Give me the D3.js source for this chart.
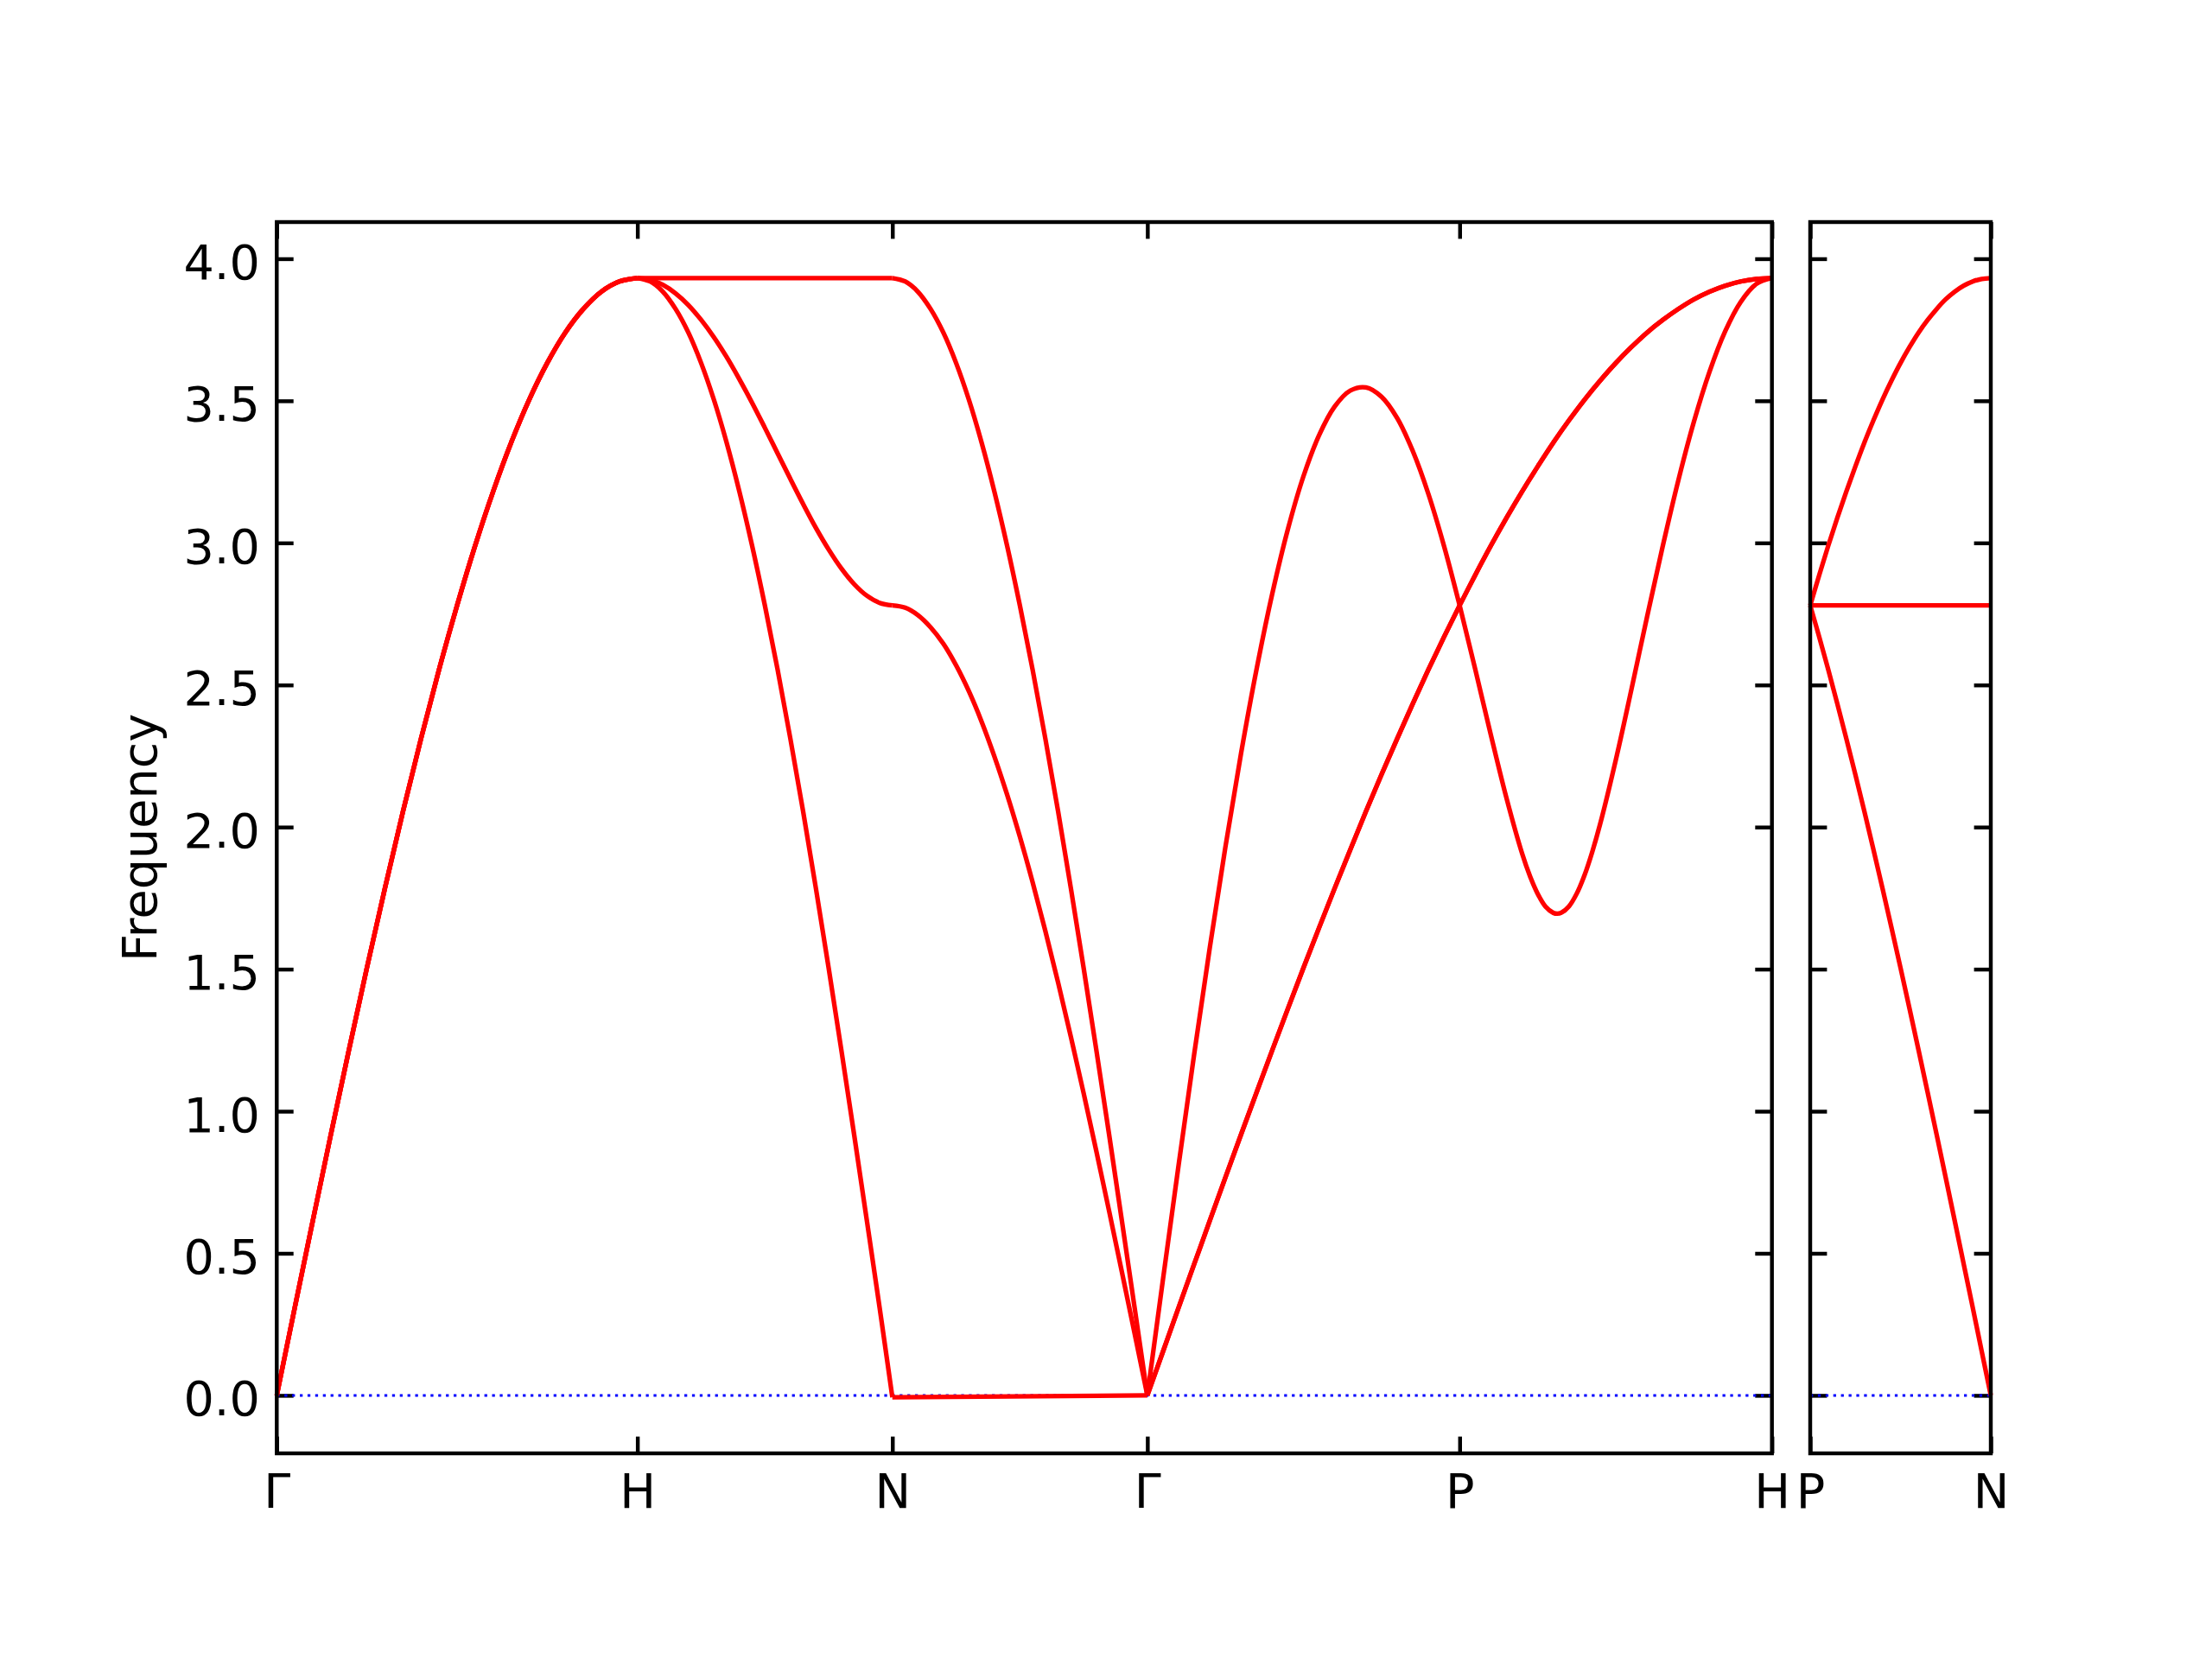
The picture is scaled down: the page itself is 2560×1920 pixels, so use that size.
<!DOCTYPE html>
<html><head><meta charset="utf-8">
<script src="https://cdn.jsdelivr.net/npm/d3@7"></script>
<style>body{margin:0;background:#fff}</style>
</head><body>
<svg id="c" width="2560" height="1920" xmlns="http://www.w3.org/2000/svg"></svg>
<script>
// ---------- data ----------
const kLabels1 = ["Γ", "H", "N", "Γ", "P", "H"];
const kLabels2 = ["P", "N"];
const segLen1 = [1.0, 0.7071, 0.7071, 0.8660, 0.8660];
const segLen2 = [0.5];
const yTicks = [0.0, 0.5, 1.0, 1.5, 2.0, 2.5, 3.0, 3.5, 4.0];
const qFrac = [0, 0.05, 0.1, 0.15, 0.2, 0.25, 0.3, 0.35, 0.4, 0.45, 0.5, 0.55, 0.6, 0.65, 0.7, 0.75, 0.8, 0.85, 0.9, 0.95, 1];
const qEnds = [0, 1];
const qPH_L = [0, 0.05, 0.1, 0.15, 0.2, 0.225, 0.25, 0.275, 0.3, 0.3125, 0.325, 0.35, 0.375, 0.4, 0.425, 0.45, 0.5, 0.55, 0.6, 0.65, 0.7, 0.75, 0.8, 0.85, 0.9, 0.95, 1];

const fGH = [0, 0.309, 0.615, 0.918, 1.215, 1.505, 1.785, 2.055, 2.311, 2.554, 2.780, 2.990, 3.181, 3.353, 3.504, 3.633, 3.740, 3.823, 3.884, 3.920, 3.932];
const fHN_top = [3.932, 3.932];
const fHN_mid = [3.932, 3.926, 3.908, 3.878, 3.837, 3.785, 3.724, 3.654, 3.576, 3.493, 3.405, 3.315, 3.225, 3.137, 3.053, 2.977, 2.910, 2.855, 2.814, 2.789, 2.780];
const fHN_low = [3.932, 3.920, 3.884, 3.823, 3.740, 3.633, 3.504, 3.353, 3.181, 2.990, 2.780, 2.554, 2.311, 2.055, 1.785, 1.505, 1.215, 0.918, 0.615, 0.309, -0.007];
const fNG_top = [3.932, 3.920, 3.884, 3.823, 3.740, 3.633, 3.504, 3.353, 3.181, 2.990, 2.780, 2.554, 2.311, 2.055, 1.785, 1.505, 1.215, 0.918, 0.615, 0.309, 0];
const fNG_mid = [2.780, 2.772, 2.746, 2.703, 2.645, 2.569, 2.478, 2.371, 2.249, 2.114, 1.966, 1.806, 1.634, 1.453, 1.262, 1.064, 0.859, 0.649, 0.435, 0.218, 0];
const fNG_low = [-0.007, 0];
const fGP_L = [0, 0.408, 0.810, 1.201, 1.576, 1.930, 2.259, 2.557, 2.821, 3.048, 3.235, 3.379, 3.480, 3.536, 3.547, 3.514, 3.439, 3.323, 3.172, 2.989, 2.780];
const fGP_T = [0, 0.154, 0.309, 0.462, 0.615, 0.767, 0.918, 1.067, 1.215, 1.361, 1.505, 1.646, 1.785, 1.921, 2.055, 2.185, 2.311, 2.434, 2.554, 2.669, 2.780];
const fPH_L = [2.780, 2.555, 2.324, 2.102, 1.907, 1.828, 1.765, 1.720, 1.698, 1.695, 1.698, 1.721, 1.766, 1.831, 1.914, 2.011, 2.236, 2.484, 2.739, 2.987, 3.219, 3.426, 3.602, 3.744, 3.848, 3.911, 3.932];
const fPH_T = [2.780, 2.887, 2.990, 3.088, 3.181, 3.269, 3.353, 3.431, 3.504, 3.571, 3.633, 3.689, 3.740, 3.784, 3.823, 3.857, 3.884, 3.905, 3.920, 3.929, 3.932];
const fPN_up = [2.780, 2.887, 2.990, 3.088, 3.181, 3.269, 3.353, 3.431, 3.504, 3.571, 3.633, 3.689, 3.740, 3.784, 3.823, 3.857, 3.884, 3.905, 3.920, 3.929, 3.932];
const fPN_flat = [2.780, 2.780];
const fPN_low = [2.780, 2.669, 2.554, 2.434, 2.311, 2.185, 2.055, 1.921, 1.785, 1.646, 1.505, 1.361, 1.215, 1.067, 0.918, 0.767, 0.615, 0.462, 0.309, 0.154, 0];

const segments1 = [
  [[qFrac, fGH], [qFrac, fGH], [qFrac, fGH]],
  [[qEnds, fHN_top], [qFrac, fHN_mid], [qFrac, fHN_low]],
  [[qFrac, fNG_top], [qFrac, fNG_mid], [qEnds, fNG_low]],
  [[qFrac, fGP_L], [qFrac, fGP_T], [qFrac, fGP_T]],
  [[qPH_L, fPH_L], [qFrac, fPH_T], [qFrac, fPH_T]]
];
const segments2 = [
  [[qFrac, fPN_up], [qEnds, fPN_flat], [qFrac, fPN_low]]
];

// ---------- layout ----------
const svg = d3.select("#c");
const FONT = "DejaVu Sans";
const FS = 55.6;
const LW = 4.44;
const TICK = 19.4;
const yTop = 257, yBot = 1682;
const y = d3.scaleLinear().domain([-0.204, 4.129]).range([yBot, yTop]);

function cumul(lens) {
  const c = [0];
  lens.forEach(l => c.push(c[c.length - 1] + l));
  return c;
}

function drawPanel(x0, x1, segLen, segs, labels, showY) {
  const cum = cumul(segLen);
  const x = d3.scaleLinear().domain([0, cum[cum.length - 1]]).range([x0, x1]);
  const g = svg.append("g");

  const styleAxis = a => {
    a.attr("font-family", FONT).attr("font-size", FS);
    a.select(".domain").remove();
    a.selectAll(".tick line").attr("stroke", "#000").attr("stroke-width", LW);
  };

  const aL = g.append("g").attr("transform", `translate(${x0},0)`)
    .call(d3.axisLeft(y).tickValues(yTicks).tickSize(-TICK).tickPadding(19.5)
      .tickFormat(showY ? d3.format(".1f") : () => ""));
  styleAxis(aL);
  aL.selectAll("text").attr("dy", 0).attr("y", 23);
  const aR = g.append("g").attr("transform", `translate(${x1},0)`)
    .call(d3.axisRight(y).tickValues(yTicks).tickSize(-TICK).tickFormat(() => ""));
  styleAxis(aR);
  const aB = g.append("g").attr("transform", `translate(0,${yBot})`)
    .call(d3.axisBottom(x).tickValues(cum).tickSize(-TICK).tickFormat((d, i) => labels[i]));
  styleAxis(aB);
  aB.selectAll("text").attr("dy", 0).attr("y", 62.5);
  const aT = g.append("g").attr("transform", `translate(0,${yTop})`)
    .call(d3.axisTop(x).tickValues(cum).tickSize(-TICK).tickFormat(() => ""));
  styleAxis(aT);

  g.append("line")
    .attr("x1", x0).attr("x2", x1).attr("y1", y(0)).attr("y2", y(0))
    .attr("stroke", "#0000ff").attr("stroke-width", 3.0)
    .attr("stroke-dasharray", "3.3 5.6");

  const line = d3.line().x(d => x(d[0])).y(d => y(d[1])).curve(d3.curveCatmullRom.alpha(0.5));
  segs.forEach((bands, i) => {
    bands.forEach(([q, f]) => {
      const pts = q.map((qq, j) => [cum[i] + qq * segLen[i], f[j]]);
      g.append("path").attr("d", line(pts))
        .attr("fill", "none").attr("stroke", "#ff0000")
        .attr("stroke-width", 5.3).attr("stroke-linejoin", "round")
        .attr("stroke-linecap", "butt");
    });
  });

  g.append("rect").attr("x", x0).attr("y", yTop)
    .attr("width", x1 - x0).attr("height", yBot - yTop)
    .attr("fill", "none").attr("stroke", "#000").attr("stroke-width", LW);
}

drawPanel(320.3, 2050.7, segLen1, segments1, kLabels1, true);
drawPanel(2095, 2304, segLen2, segments2, kLabels2, false);

svg.append("text")
  .attr("transform", `translate(181,${(yTop + yBot) / 2}) rotate(-90)`)
  .attr("text-anchor", "middle")
  .attr("font-family", FONT).attr("font-size", FS)
  .text("Frequency");
</script>
</body></html>
